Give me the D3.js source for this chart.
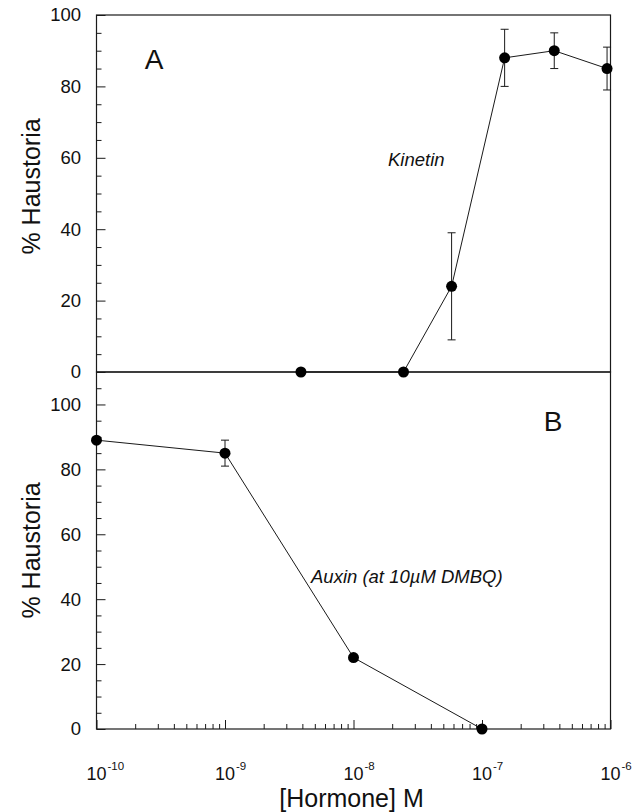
<!DOCTYPE html>
<html>
<head>
<meta charset="utf-8">
<script src="https://cdn.jsdelivr.net/npm/d3@7"></script>
<style>
  html, body { margin: 0; padding: 0; background: #fff; }
  svg text { font-family: "Liberation Sans", Arial, Helvetica, sans-serif; fill: #111; }
</style>
</head>
<body>
<svg id="chart" width="640" height="812"></svg>
<script>
// ---- data ----
const kinetinConc = [3.9e-9, 2.45e-8, 5.8e-8, 1.5e-7, 3.65e-7, 9.4e-7];
const kinetinPct  = [0, 0, 24, 88, 90, 85];
const kinetinErr  = [0, 0, 15, 8, 5, 6];

const auxinConc = [1e-10, 1e-9, 1e-8, 1e-7];
const auxinPct  = [89, 85, 22, 0];
const auxinErr  = [0, 4, 0, 0];

const xTickExps = [-10, -9, -8, -7, -6];
const yTicksA = [0, 20, 40, 60, 80, 100];
const yTicksB = [0, 20, 40, 60, 80, 100];

// ---- layout ----
const svg = d3.select("#chart");
const left = 96.5, right = 610.5;
const topA = 15, zeroA = 372, botB = 729;

const x = d3.scaleLog().domain([1e-10, 1e-6]).range([left, right]);
const yA = d3.scaleLinear().domain([0, 100]).range([zeroA, topA]);
const yB = d3.scaleLinear().domain([0, 110]).range([botB, zeroA]);

const stroke = "#1a1a1a";

// frames
svg.append("rect").attr("x", left).attr("y", topA).attr("width", right - left).attr("height", zeroA - topA)
  .attr("fill", "none").attr("stroke", stroke).attr("stroke-width", 1.2);
svg.append("rect").attr("x", left).attr("y", zeroA).attr("width", right - left).attr("height", botB - zeroA)
  .attr("fill", "none").attr("stroke", stroke).attr("stroke-width", 1.2);

function yAxis(scale, majors, domainMax) {
  const minors = d3.range(0, domainMax + 0.1, 5).filter(v => majors.indexOf(v) < 0);
  const gMin = svg.append("g").attr("transform", `translate(${left},0)`)
    .call(d3.axisLeft(scale).tickValues(minors).tickSize(-5).tickFormat(""));
  const gMaj = svg.append("g").attr("transform", `translate(${left},0)`)
    .call(d3.axisLeft(scale).tickValues(majors).tickSize(-9).tickPadding(15.5).tickFormat(d3.format("d")));
  [gMin, gMaj].forEach(g => {
    g.select(".domain").remove();
    g.selectAll("line").attr("stroke", stroke).attr("stroke-width", 1);
    g.selectAll("text").attr("font-size", 18.5).style("fill", "#111")
      .style("font-family", '"Liberation Sans", Arial, sans-serif');
  });
}
yAxis(yA, yTicksA, 100);
yAxis(yB, yTicksB, 110);

// x axis ticks (bottom of panel B, inward)
const majorX = xTickExps.map(e => Math.pow(10, e));
const minorX = [];
xTickExps.slice(0, -1).forEach(e => { for (let k = 2; k <= 9; k++) minorX.push(k * Math.pow(10, e)); });
const gxMin = svg.append("g").attr("transform", `translate(0,${botB})`)
  .call(d3.axisBottom(x).tickValues(minorX).tickSize(-5).tickFormat(""));
const gxMaj = svg.append("g").attr("transform", `translate(0,${botB})`)
  .call(d3.axisBottom(x).tickValues(majorX).tickSize(-9).tickFormat(""));
[gxMin, gxMaj].forEach(g => {
  g.select(".domain").remove();
  g.selectAll("line").attr("stroke", stroke).attr("stroke-width", 1);
});

// x tick labels 10^n
xTickExps.forEach(e => {
  const px = x(Math.pow(10, e));
  const t = svg.append("text").attr("x", px - 10).attr("y", 780).attr("font-size", 18);
  t.append("tspan").text("10");
  t.append("tspan").attr("font-size", 11.5).attr("dy", -10).attr("dx", 1).text(String(e));
});

// axis titles
svg.append("text").attr("x", (left + right) / 2 - 2).attr("y", 807).attr("text-anchor", "middle")
  .attr("font-size", 25).text("[Hormone] M");
svg.append("text").attr("transform", `translate(40,${(topA + zeroA) / 2 - 7}) rotate(-90)`)
  .attr("text-anchor", "middle").attr("font-size", 25).text("% Haustoria");
svg.append("text").attr("transform", `translate(40,${(zeroA + botB) / 2}) rotate(-90)`)
  .attr("text-anchor", "middle").attr("font-size", 25).text("% Haustoria");

// panel letters
svg.append("text").attr("x", 154).attr("y", 69).attr("text-anchor", "middle").attr("font-size", 28).text("A");
svg.append("text").attr("x", 553).attr("y", 431).attr("text-anchor", "middle").attr("font-size", 28).text("B");

// series labels
svg.append("text").attr("x", 388).attr("y", 166).attr("font-size", 18.5).attr("font-style", "italic").text("Kinetin");
svg.append("text").attr("x", 311).attr("y", 583).attr("font-size", 18.5).attr("font-style", "italic").text("Auxin (at 10µM DMBQ)");

function series(conc, pct, err, yScale) {
  const data = conc.map((c, i) => ({ c, p: pct[i], e: err[i] }));
  const line = d3.line().x(d => x(d.c)).y(d => yScale(d.p));
  svg.append("path").datum(data).attr("d", line).attr("fill", "none").attr("stroke", stroke).attr("stroke-width", 1);
  const eb = svg.append("g");
  data.filter(d => d.e > 0).forEach(d => {
    const cx = x(d.c);
    eb.append("line").attr("x1", cx).attr("x2", cx).attr("y1", yScale(d.p - d.e)).attr("y2", yScale(d.p + d.e))
      .attr("stroke", stroke).attr("stroke-width", 1);
    [d.p - d.e, d.p + d.e].forEach(v => {
      eb.append("line").attr("x1", cx - 4).attr("x2", cx + 4).attr("y1", yScale(v)).attr("y2", yScale(v))
        .attr("stroke", stroke).attr("stroke-width", 1);
    });
  });
  svg.append("g").selectAll("circle").data(data).join("circle")
    .attr("cx", d => x(d.c)).attr("cy", d => yScale(d.p)).attr("r", 5.5).attr("fill", "#000");
}
series(kinetinConc, kinetinPct, kinetinErr, yA);
series(auxinConc, auxinPct, auxinErr, yB);
</script>
</body>
</html>
